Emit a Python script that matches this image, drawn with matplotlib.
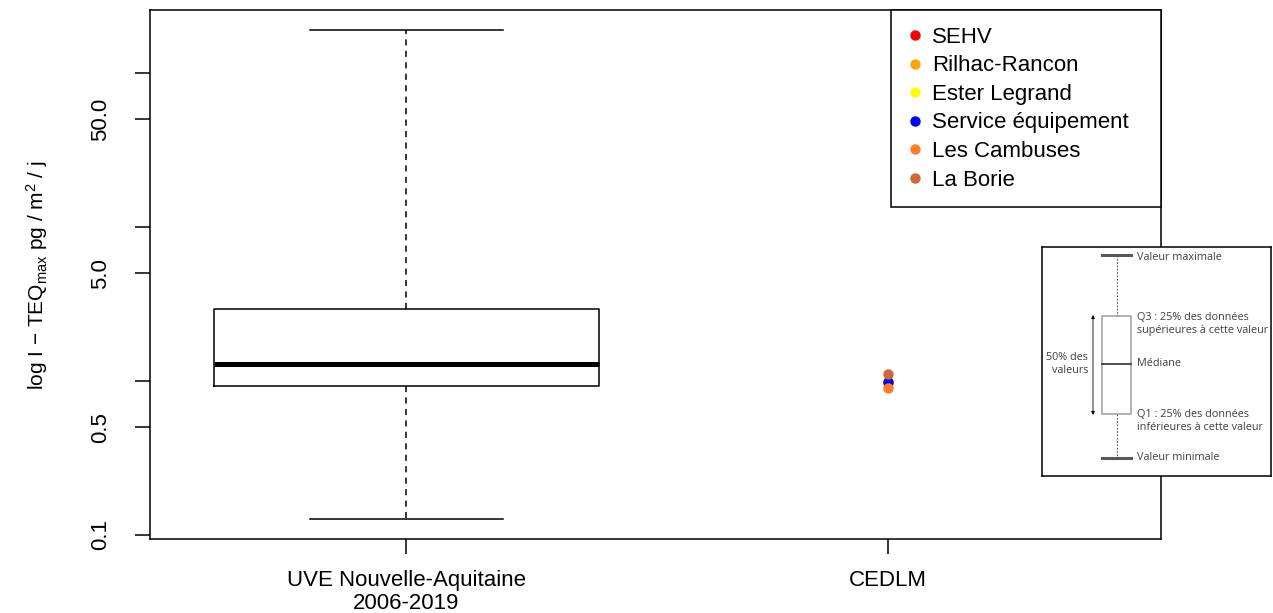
import matplotlib
matplotlib.use("Agg")
import matplotlib.pyplot as plt
import numpy as np

plt.rcParams["font.family"] = ["Liberation Sans", "DejaVu Sans"]
plt.rcParams["mathtext.fontset"] = "custom"
plt.rcParams["mathtext.rm"] = "Liberation Sans"
plt.rcParams["mathtext.default"] = "regular"

# ── données ───────────────────────────────────────────────────
groups      = ["UVE Nouvelle-Aquitaine\n2006-2019", "CEDLM"]
box_q1      = 0.93
box_med     = 1.29
box_q3      = 2.91
box_min     = 0.126
box_max     = 190.0

sites       = ["SEHV", "Rilhac-Rancon", "Ester Legrand",
               "Service équipement", "Les Cambuses", "La Borie"]
site_values = [0.98, 0.97, 0.99, 0.99, 0.90, 1.11]
site_colors = ["#FF0000", "#FFA500", "#FFFF00", "#0000FF", "#FF7F24", "#CD6839"]

ytick_vals   = [0.1, 0.5, 1, 5, 10, 50, 100]
ytick_labels = ["0.1", "0.5", "", "5.0", "", "50.0", ""]

# ── figure ────────────────────────────────────────────────────
W, H = 1273, 613
fig = plt.figure(figsize=(W / 100, H / 100), dpi=100)
ax = fig.add_axes([150 / W, (H - 539) / H, (1161 - 150) / W, (539 - 10.3) / H])

stats = [{"med": box_med, "q1": box_q1, "q3": box_q3,
          "whislo": box_min, "whishi": box_max, "fliers": []}]
ax.bxp(stats, positions=[1], widths=0.8, capwidths=0.4, showfliers=False,
       boxprops=dict(color="black", lw=1.1),
       medianprops=dict(color="black", lw=3.6, solid_capstyle="butt"),
       whiskerprops=dict(color="black", lw=1.1, linestyle=(0, (4, 3.5))),
       capprops=dict(color="black", lw=1.1))

for name, val, col in zip(sites, site_values, site_colors):
    ax.plot([2], [val], "o", color=col, ms=7.5, mec="none", label=name, zorder=3)

ax.set_yscale("log")
lo, hi = np.log10(box_min), np.log10(box_max)
pad = 0.04 * (hi - lo)
ax.set_ylim(10 ** (lo - pad), 10 ** (hi + pad))
ax.set_xlim(0.467, 2.568)

ax.set_yticks(ytick_vals)
ax.set_yticklabels(ytick_labels, rotation=90, va="center", fontsize=16)
ax.yaxis.set_minor_locator(matplotlib.ticker.NullLocator())
ax.set_xticks([1, 2])
ax.set_xticklabels(groups, fontsize=16, linespacing=1.15)
ax.tick_params(axis="both", length=11, width=1.1)
ax.tick_params(axis="y", pad=17)
ax.tick_params(axis="x", pad=11)
for s in ax.spines.values():
    s.set_linewidth(1.1)

ax.set_ylabel("log I \u2212 TEQ$_{max}$ pg / m$^{2}$ / j", fontsize=15, labelpad=29)

leg_x0 = (891 - 150) / (1161 - 150)
leg = ax.legend(loc="upper right", bbox_to_anchor=(leg_x0, 0, 1 - leg_x0, 1),
                mode="expand", fontsize=16, frameon=True, fancybox=False,
                edgecolor="black", framealpha=1, borderaxespad=0,
                handlelength=0.65, handletextpad=0.45, borderpad=0.74,
                labelspacing=0.34)
leg.get_frame().set_linewidth(1.1)

# ── encart explicatif ─────────────────────────────────────────
ins = fig.add_axes([1042 / W, (H - 476) / H, 229 / W, 229 / H], zorder=5)
ins.set_xlim(0, 229)
ins.set_ylim(229, 0)
ins.set_xticks([])
ins.set_yticks([])
for s in ins.spines.values():
    s.set_linewidth(1.1)

gc = "#404040"
ins.plot([60, 89], [8, 8], color="#595959", lw=2.2)
ins.plot([60, 89], [211, 211], color="#595959", lw=2.2)
ins.plot([75, 75], [8, 69], color="#595959", lw=0.8, linestyle=(0, (1.5, 1.5)))
ins.plot([75, 75], [167, 211], color="#595959", lw=0.8, linestyle=(0, (1.5, 1.5)))
ins.add_patch(plt.Rectangle((60, 69), 29, 98, fill=False, ec="#A6A6A6", lw=1.2))
ins.plot([60, 89], [117, 117], color="#303030", lw=1.2)
ins.annotate("", xy=(51, 68), xytext=(51, 168),
             arrowprops=dict(arrowstyle="<|-|>", color="black", lw=0.6,
                             mutation_scale=5, shrinkA=0, shrinkB=0))

fs = 7.8
ff = ["Open Sans", "DejaVu Sans"]
ins.text(46, 117, "50% des\nvaleurs", ha="right", va="center", fontsize=fs,
         family=ff, color=gc, multialignment="right", linespacing=1.2)
ins.text(95, 11, "Valeur maximale", ha="left", va="center", fontsize=fs, family=ff, color=gc)
ins.text(95, 77, "Q3 : 25% des données\nsupérieures à cette valeur", ha="left",
         va="center", fontsize=fs, family=ff, color=gc, linespacing=1.15)
ins.text(95, 117, "Médiane", ha="left", va="center", fontsize=fs, family=ff, color=gc)
ins.text(95, 174, "Q1 : 25% des données\ninférieures à cette valeur", ha="left",
         va="center", fontsize=fs, family=ff, color=gc, linespacing=1.15)
ins.text(95, 211, "Valeur minimale", ha="left", va="center", fontsize=fs, family=ff, color=gc)

fig.savefig("out.png", dpi=100)
